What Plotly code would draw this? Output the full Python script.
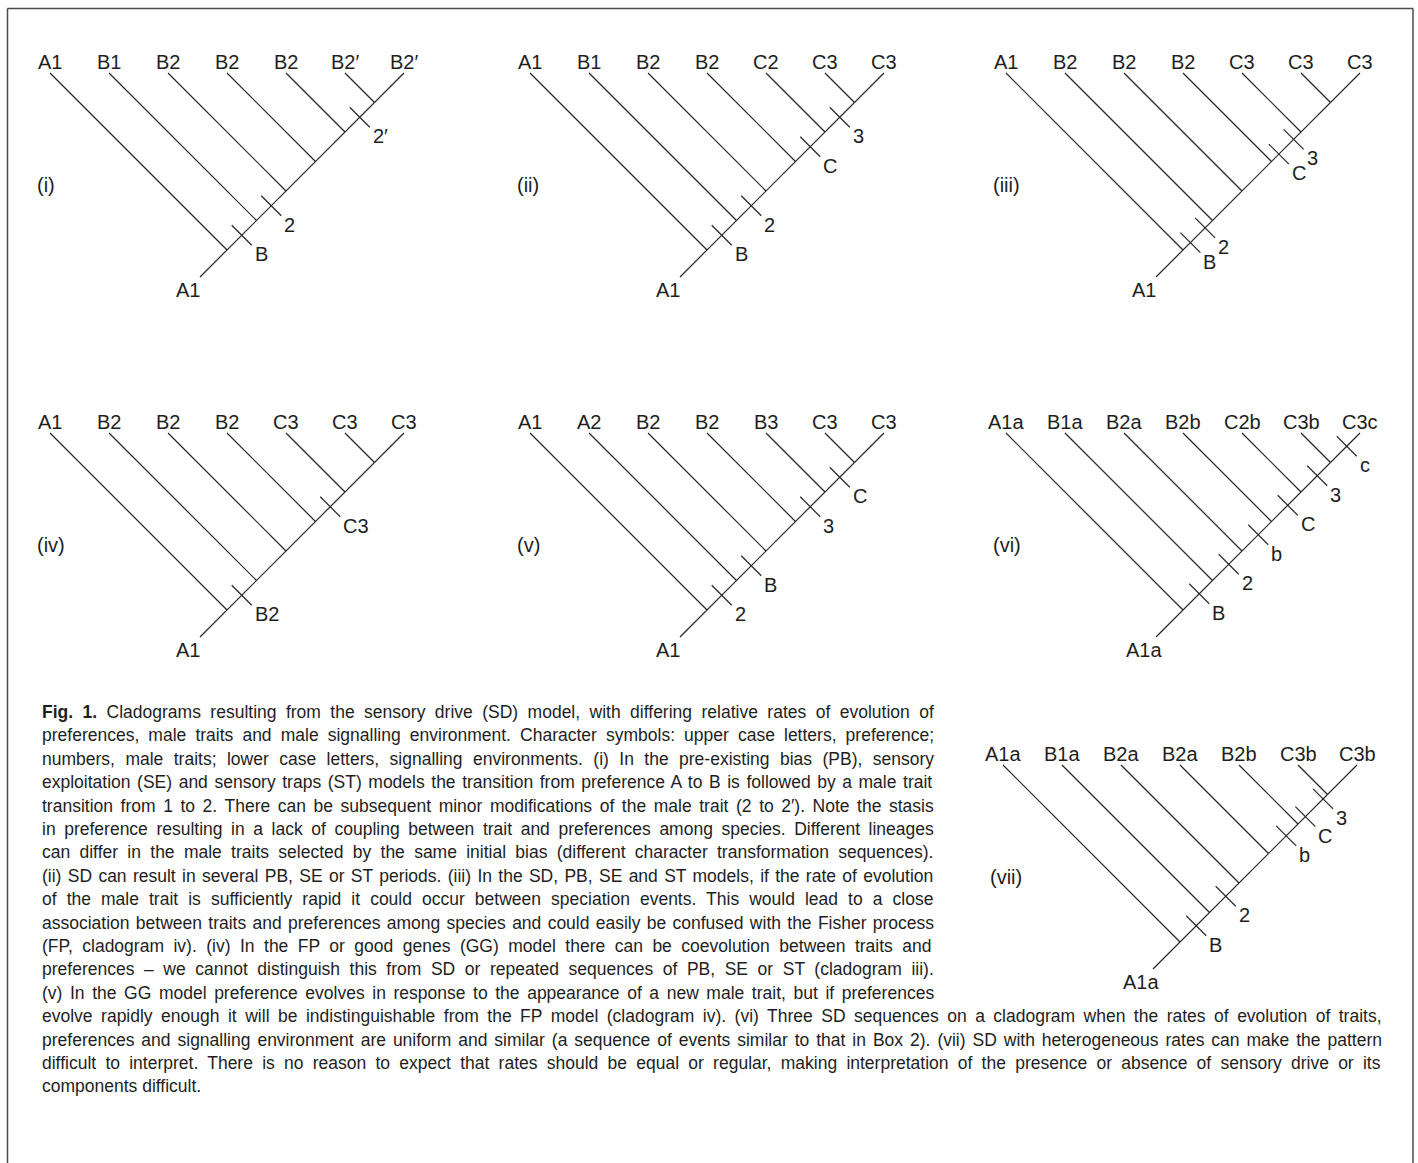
import plotly.graph_objects as go

# ---------------- data ----------------
panel_labels = ["(i)", "(ii)", "(iii)", "(iv)", "(v)", "(vi)", "(vii)"]

tips_i = ["A1", "B1", "B2", "B2", "B2", "B2′", "B2′"]
tips_ii = ["A1", "B1", "B2", "B2", "C2", "C3", "C3"]
tips_iii = ["A1", "B2", "B2", "B2", "C3", "C3", "C3"]
tips_iv = ["A1", "B2", "B2", "B2", "C3", "C3", "C3"]
tips_v = ["A1", "A2", "B2", "B2", "B3", "C3", "C3"]
tips_vi = ["A1a", "B1a", "B2a", "B2b", "C2b", "C3b", "C3c"]
tips_vii = ["A1a", "B1a", "B2a", "B2a", "B2b", "C3b", "C3b"]
tip_sets = [tips_i, tips_ii, tips_iii, tips_iv, tips_v, tips_vi, tips_vii]

root_labels = ["A1", "A1", "A1", "A1", "A1", "A1a", "A1a"]

# character changes: (spine segment index, position within segment, symbol)
changes_i = [(0, 0.5, "B"), (1, 0.5, "2"), (4, 0.5, "2′")]
changes_ii = [(0, 0.5, "B"), (1, 0.5, "2"), (3, 0.5, "C"), (4, 0.5, "3")]
changes_iii = [(0, 0.25, "B"), (0, 0.75, "2"), (3, 0.25, "C"), (3, 0.75, "3")]
changes_iv = [(0, 0.5, "B2"), (3, 0.5, "C3")]
changes_v = [(0, 0.5, "2"), (1, 0.5, "B"), (3, 0.5, "3"), (4, 0.5, "C")]
changes_vi = [(0, 0.55, "B"), (1, 0.55, "2"), (2, 0.55, "b"), (3, 0.55, "C"),
              (4, 0.55, "3"), (5, 0.55, "c")]
changes_vii = [(0, 0.55, "B"), (1, 0.55, "2"), (3, 0.6, "b"), (4, 0.25, "C"),
               (4, 0.85, "3")]
change_sets = [changes_i, changes_ii, changes_iii, changes_iv, changes_v,
               changes_vi, changes_vii]

caption_lines = [
    "Fig. 1. Cladograms resulting from the sensory drive (SD) model, with differing relative rates of evolution of",
    "preferences, male traits and male signalling environment. Character symbols: upper case letters, preference;",
    "numbers, male traits; lower case letters, signalling environments. (i) In the pre-existing bias (PB), sensory",
    "exploitation (SE) and sensory traps (ST) models the transition from preference A to B is followed by a male trait",
    "transition from 1 to 2. There can be subsequent minor modifications of the male trait (2 to 2′). Note the stasis",
    "in preference resulting in a lack of coupling between trait and preferences among species. Different lineages",
    "can differ in the male traits selected by the same initial bias (different character transformation sequences).",
    "(ii) SD can result in several PB, SE or ST periods. (iii) In the SD, PB, SE and ST models, if the rate of evolution",
    "of the male trait is sufficiently rapid it could occur between speciation events. This would lead to a close",
    "association between traits and preferences among species and could easily be confused with the Fisher process",
    "(FP, cladogram iv). (iv) In the FP or good genes (GG) model there can be coevolution between traits and",
    "preferences – we cannot distinguish this from SD or repeated sequences of PB, SE or ST (cladogram iii).",
    "(v) In the GG model preference evolves in response to the appearance of a new male trait, but if preferences",
    "evolve rapidly enough it will be indistinguishable from the FP model (cladogram iv). (vi) Three SD sequences on a cladogram when the rates of evolution of traits,",
    "preferences and signalling environment are uniform and similar (a sequence of events similar to that in Box 2). (vii) SD with heterogeneous rates can make the pattern",
    "difficult to interpret. There is no reason to expect that rates should be equal or regular, making interpretation of the presence or absence of sensory drive or its",
    "components difficult.",
]
caption_bold = "Fig. 1."

# ---------------- layout constants ----------------
W, H = 1418, 1163
panel_offsets = [(0, 0), (480, 0), (956, 0), (0, 360), (480, 360), (956, 360), (953, 692)]
TIP_X0, TIP_STEP, TIP_Y = 50, 59, 73
ROOT_EXT = 27
TICK_HALF = 10
LINE_COL = "#262626"
TXT_COL = "#1e1e1e"
FONT = "Liberation Sans, Arial, sans-serif"
LBL_SIZE = 20

fig = go.Figure()
annotations = []


def ann(x, y, text, size=LBL_SIZE, xanchor="center", yanchor="middle"):
    annotations.append(dict(x=x, y=y, xref="x", yref="y", text=text, showarrow=False,
                            xanchor=xanchor, yanchor=yanchor,
                            font=dict(family=FONT, size=size, color=TXT_COL)))


for p, (ox, oy) in enumerate(panel_offsets):
    names = tip_sets[p]
    n = len(names)
    tip_x = [TIP_X0 + TIP_STEP * i for i in range(n)]
    c = tip_x[-1] + TIP_Y  # x + y is constant along the spine
    nodes = []
    for i in range(n - 1):
        jx = (c + tip_x[i] - TIP_Y) / 2
        nodes.append((jx, c - jx))
    nodes.append((tip_x[-1], TIP_Y))
    root = (nodes[0][0] - ROOT_EXT, nodes[0][1] + ROOT_EXT)

    xs, ys = [], []
    # spine
    xs += [root[0] + ox, tip_x[-1] + ox, None]
    ys += [root[1] + oy, TIP_Y + oy, None]
    # side branches
    for i in range(n - 1):
        xs += [tip_x[i] + ox, nodes[i][0] + ox, None]
        ys += [TIP_Y + oy, nodes[i][1] + oy, None]
    # character change ticks
    for seg, frac, sym in change_sets[p]:
        ax, ay = nodes[seg]
        bx, by = nodes[seg + 1]
        px, py = ax + frac * (bx - ax), ay + frac * (by - ay)
        xs += [px - TICK_HALF + ox, px + TICK_HALF + ox, None]
        ys += [py - TICK_HALF + oy, py + TICK_HALF + oy, None]
        ann(px + TICK_HALF + 1 + ox, py + TICK_HALF + 9 + oy, sym, xanchor="left")

    fig.add_trace(go.Scatter(x=xs, y=ys, mode="lines", hoverinfo="skip",
                             line=dict(color=LINE_COL, width=1.2), showlegend=False))

    for i, nm in enumerate(names):
        ann(tip_x[i] + ox, TIP_Y - 11 + oy, nm)
    ann(root[0] - 12 + ox, root[1] + 13 + oy, root_labels[p])
    ann(35 + ox, 185 + oy, panel_labels[p], xanchor="left")

# ---------------- caption with approximate justification ----------------
AR = {' ': 278, '!': 278, '(': 333, ')': 333, ',': 278, '-': 333, '.': 278, ':': 278,
      ';': 278, '–': 556, '′': 190, "'": 191}
for ch in "0123456789":
    AR[ch] = 556
AR.update(dict(A=667, B=667, C=722, D=722, E=667, F=611, G=778, H=722, I=278, J=500,
               K=667, L=556, M=833, N=722, O=778, P=667, Q=778, R=722, S=667, T=611,
               U=722, V=667, W=944, X=667, Y=667, Z=611))
AR.update(dict(a=556, b=556, c=500, d=556, e=556, f=278, g=556, h=556, i=222, j=222,
               k=500, l=222, m=833, n=556, o=556, p=556, q=556, r=333, s=500, t=278,
               u=556, v=500, w=722, x=500, y=500, z=500))
ARB = {'F': 611, 'i': 278, 'g': 611, '.': 278, ' ': 278, '1': 556}

CAP_SIZE = 17.5
CAP_X = 40
CAP_Y0 = 712
CAP_DY = 23.4
NARROW_RIGHT, WIDE_RIGHT = 932, 1380


def text_width(s, bold_prefix=""):
    w = 0
    rest = s
    if bold_prefix and s.startswith(bold_prefix):
        w += sum(ARB.get(ch, 600) for ch in bold_prefix)
        rest = s[len(bold_prefix):]
    w += sum(AR.get(ch, 556) for ch in rest)
    return w * CAP_SIZE / 1000.0


for k, line in enumerate(caption_lines):
    right = NARROW_RIGHT if k < 13 else WIDE_RIGHT
    nat = text_width(line, caption_bold)
    nsp = line.count(" ")
    last = (k == len(caption_lines) - 1)
    ws = 0 if last or nsp == 0 else (right - CAP_X - nat) / nsp
    body = line
    if line.startswith(caption_bold):
        body = "<b>" + caption_bold + "</b>" + line[len(caption_bold):]
    txt = '<span style="word-spacing:%.2fpx">%s</span>' % (ws, body)
    ann(CAP_X, CAP_Y0 + k * CAP_DY, txt, size=CAP_SIZE, xanchor="left")

# ---------------- frame ----------------
shapes = [
    dict(type="line", xref="x", yref="y", x0=7.5, y0=8.5, x1=1413, y1=8.5,
         line=dict(color="#4a4a4a", width=1.5)),
    dict(type="line", xref="x", yref="y", x0=7.5, y0=8.5, x1=7.5, y1=H,
         line=dict(color="#4a4a4a", width=1.5)),
    dict(type="line", xref="x", yref="y", x0=1413, y0=8.5, x1=1413, y1=H,
         line=dict(color="#4a4a4a", width=1.5)),
]

fig.update_layout(
    width=W, height=H, margin=dict(l=0, r=0, t=0, b=0, pad=0),
    paper_bgcolor="white", plot_bgcolor="white",
    xaxis=dict(range=[0, W], visible=False, fixedrange=True),
    yaxis=dict(range=[H, 0], visible=False, fixedrange=True),
    annotations=annotations, shapes=shapes, showlegend=False,
)

fig.write_html("out.html", config={"displayModeBar": False},
               post_script="document.body.style.margin='0';document.body.style.overflow='hidden';")
